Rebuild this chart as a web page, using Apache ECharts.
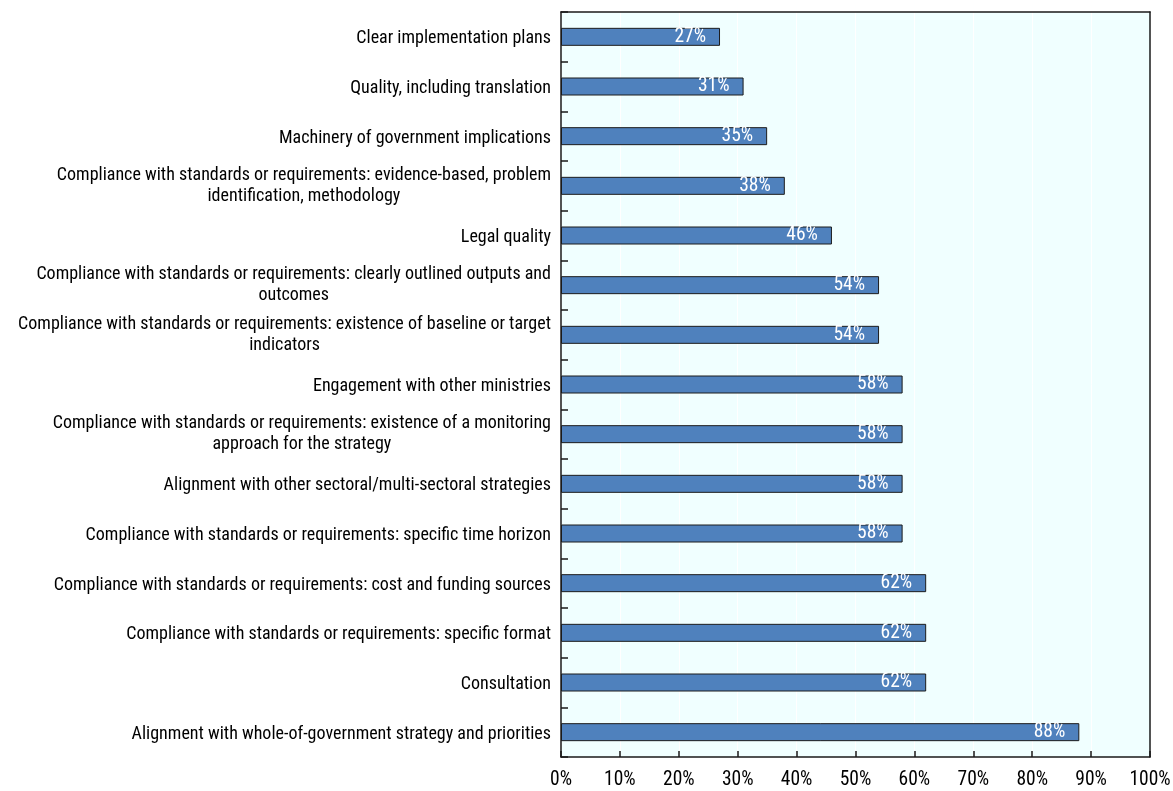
<!DOCTYPE html>
<html>
<head>
<meta charset="utf-8">
<script src="https://cdn.jsdelivr.net/npm/echarts@6/dist/echarts.min.js"></script>
<style>
  html, body { margin: 0; padding: 0; background: #ffffff; }
  #chart { width: 1173px; height: 791px; }
</style>
</head>
<body>
<div id="chart"></div>
<script>
// Criteria assessed, top to bottom (line breaks mark wrapped labels)
const categories = [
  'Clear implementation plans',
  'Quality, including translation',
  'Machinery of government implications',
  'Compliance with standards or requirements: evidence-based, problem\nidentification, methodology',
  'Legal quality',
  'Compliance with standards or requirements: clearly outlined outputs and\noutcomes',
  'Compliance with standards or requirements: existence of baseline or target\nindicators',
  'Engagement with other ministries',
  'Compliance with standards or requirements: existence of a monitoring\napproach for the strategy',
  'Alignment with other sectoral/multi-sectoral strategies',
  'Compliance with standards or requirements: specific time horizon',
  'Compliance with standards or requirements: cost and funding sources',
  'Compliance with standards or requirements: specific format',
  'Consultation',
  'Alignment with whole-of-government strategy and priorities'
];

// Share of respondents, %
const shares = [27, 31, 35, 38, 46, 54, 54, 58, 58, 58, 58, 62, 62, 62, 88];

// X-axis tick values, %
const xTicks = [0, 10, 20, 30, 40, 50, 60, 70, 80, 90, 100];

const FONT = '"Roboto Condensed", "Liberation Sans", sans-serif';
const FS_CAT = 18;    // category labels
const FS_NUM = 19.5;  // percentages (axis ticks and bar values)
const FRAME = { color: '#1a1a1a', width: 1.5 };

// Single-line labels sit a touch lower than wrapped ones
function categoryLabel(v) {
  const lines = v.split('\n');
  if (lines.length === 1) return '{s|' + v + '}';
  return lines.map(s => '{c|' + s + '}').join('\n');
}

const chart = echarts.init(document.getElementById('chart'), null, { renderer: 'canvas' });

chart.setOption({
  animation: false,
  grid: {
    left: 561, right: 23, top: 12, bottom: 34,
    outerBoundsMode: 'none',
    containLabel: false,
    show: true,
    backgroundColor: '#f0ffff',
    borderWidth: 0
  },
  xAxis: [{
    type: 'value',
    position: 'bottom',
    min: xTicks[0],
    max: xTicks[xTicks.length - 1],
    interval: xTicks[1] - xTicks[0],
    axisLine: { show: true, lineStyle: FRAME },
    axisTick: { show: true, inside: true, length: 6, lineStyle: FRAME },
    splitLine: { show: true, lineStyle: { color: '#ffffff', width: 1 } },
    axisLabel: {
      margin: 13,
      color: '#000',
      fontFamily: FONT,
      fontSize: FS_NUM,
      formatter: v => v + '%'
    }
  }, {
    // top edge of the frame
    type: 'value',
    position: 'top',
    min: xTicks[0],
    max: xTicks[xTicks.length - 1],
    axisLine: { show: true, onZero: false, lineStyle: FRAME },
    axisTick: { show: false },
    axisLabel: { show: false },
    splitLine: { show: false }
  }],
  yAxis: [{
    type: 'category',
    inverse: true,
    data: categories,
    axisLine: { show: true, lineStyle: FRAME },
    axisTick: { show: true, inside: true, length: 7, lineStyle: FRAME },
    splitLine: { show: false },
    axisLabel: {
      margin: 10,
      color: '#000',
      fontFamily: FONT,
      fontSize: FS_CAT,
      lineHeight: 21,
      formatter: categoryLabel,
      rich: {
        c: { align: 'center', fontFamily: FONT, fontSize: FS_CAT, lineHeight: 21, color: '#000' },
        s: { fontFamily: FONT, fontSize: FS_CAT, lineHeight: 21, color: '#000', padding: [4, 0, 0, 0] }
      }
    },
    z: 3
  }, {
    // right edge of the frame
    type: 'category',
    position: 'right',
    inverse: true,
    data: categories,
    axisLine: { show: true, onZero: false, lineStyle: FRAME },
    axisTick: { show: false },
    axisLabel: { show: false },
    splitLine: { show: false }
  }],
  series: [{
    type: 'bar',
    data: shares,
    barWidth: 18,
    z: 2,
    itemStyle: { color: '#4f81bd', borderColor: '#1c1c1c', borderWidth: 1 },
    label: {
      show: true,
      position: 'insideRight',
      distance: 14,
      color: '#ffffff',
      fontFamily: FONT,
      fontSize: FS_NUM,
      formatter: p => p.value + '%'
    }
  }]
});
</script>
</body>
</html>
